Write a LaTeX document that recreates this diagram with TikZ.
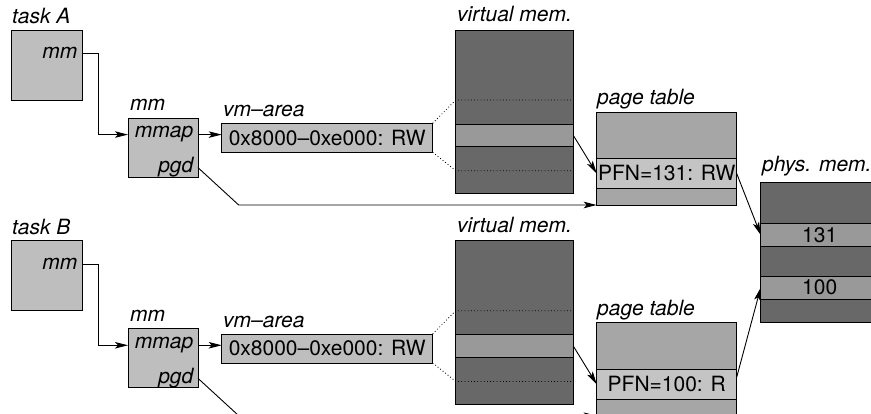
\documentclass[tikz,border=0pt]{standalone}
\usepackage{fontspec}
\setmainfont{TeX Gyre Heros}
\usetikzlibrary{arrows.meta}
\definecolor{boxgray}{HTML}{BEBEBE}
\definecolor{memdark}{HTML}{686868}
\definecolor{bandgray}{HTML}{999999}
\definecolor{ptgray}{HTML}{A6A6A6}
\definecolor{rowgray}{HTML}{C4C4C4}
\begin{document}
\begin{tikzpicture}[x=1pt,y=-1pt,
  font=\fontsize{21}{25}\selectfont,
  blk/.style={draw=black, line width=0.9pt, inner sep=0pt, outer sep=0pt, anchor=north west},
  title/.style={font=\fontsize{21}{25}\selectfont\itshape, anchor=base west, inner sep=0pt},
  field/.style={font=\fontsize{21}{25}\selectfont\itshape, anchor=base east, inner sep=0pt},
  link/.style={line width=0.9pt, -{Stealth[length=13pt,width=6.5pt,inset=3pt]}},
  dots/.style={line width=0.8pt, dash pattern=on 0.8pt off 2.4pt}]
\useasboundingbox (0,0) rectangle (871,414);
\clip (0,0) rectangle (871,414);

% physical memory, shared by both tasks
\node[blk, fill=memdark, minimum width=118pt, minimum height=140pt] (phys) at (760.7,182.7) {};
\node[blk, fill=bandgray, minimum width=118pt, minimum height=23.4pt] (p131) at (760.7,223.3) {131};
\node[blk, fill=bandgray, minimum width=118pt, minimum height=23.3pt] (p100) at (760.7,276) {100};
\node[title] (physlab) at (762,172) {phys. mem.};

\foreach \t/\dy/\pfn in {A/0/{PFN=131: RW}, B/210.7/{PFN=100: R}}{
  % task structure
  \node[blk, fill=boxgray, minimum width=71pt, minimum height=70pt] (task\t) at (11,{30+\dy}) {};
  \node[title] (tasklab\t) at (12,{24+\dy}) {task \t};
  \node[field] (mmt\t) at (77.5,{59+\dy}) {mm};
  % mm structure
  \node[blk, fill=boxgray, minimum width=70pt, minimum height=59pt] (mm\t) at (128,{118+\dy}) {};
  \node[title] (mmlab\t) at (130,{111+\dy}) {mm};
  \node[field] (mmap\t) at (193.5,{138+\dy}) {mmap};
  \node[field] (pgd\t) at (193.5,{173+\dy}) {pgd};
  % vm-area
  \node[blk, fill=boxgray, minimum width=211pt, minimum height=29pt] (vma\t) at (221.7,{123.3+\dy}) {0x8000–0xe000: RW};
  \node[title] (vmalab\t) at (223,{117+\dy}) {vm–area};
  % virtual memory
  \node[blk, fill=memdark, minimum width=117.6pt, minimum height=163.3pt] (vmem\t) at (455.7,{30+\dy}) {};
  \node[blk, fill=bandgray, minimum width=117.6pt, minimum height=22.7pt] (band\t) at (455.7,{124+\dy}) {};
  \node[title] (vmemlab\t) at (457,{22+\dy}) {virtual mem.};
  \coordinate (dtop\t) at (455.7,{100+\dy});
  \coordinate (dbot\t) at (455.7,{170.7+\dy});
  % page table
  \node[blk, fill=ptgray, minimum width=140pt, minimum height=93pt] (pt\t) at (596.7,{112+\dy}) {};
  \node[blk, fill=rowgray, minimum width=140pt, minimum height=29.6pt] (pfn\t) at (596.7,{158.7+\dy}) {\pfn};
  \node[title] (ptlab\t) at (597,{105+\dy}) {page table};
  % connectors
  \draw[link] (task\t.east |- mmt\t) -- ++(16,0) |- (mm\t.west |- mmap\t);
  \draw[link] (mm\t.east |- mmap\t) -- (vma\t.west |- mmap\t);
  \draw[link] (mm\t.east |- pgd\t) -- ([xshift=-358pt]pt\t.south west) -- (pt\t.south west);
  \draw[dots] (vma\t.north east) -- (dtop\t) -- (dtop\t -| vmem\t.east);
  \draw[dots] (vma\t.south east) -- (dbot\t) -- (dbot\t -| vmem\t.east);
  \draw[link] (band\t.east) -- (pfn\t.west);
}
\draw[link] (pfnA.east) -- (p131.west);
\draw[link] ([yshift=7pt]pfnB.east) -- (p100.west);
\end{tikzpicture}
\end{document}
